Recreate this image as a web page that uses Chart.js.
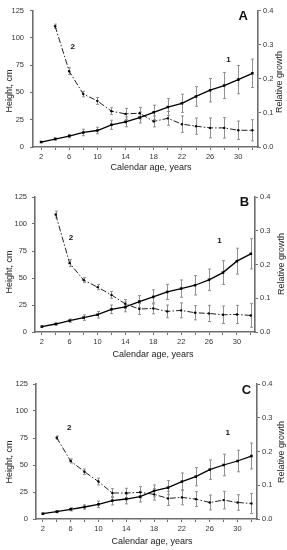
<!DOCTYPE html>
<html><head><meta charset="utf-8">
<script src="https://cdn.jsdelivr.net/npm/chart.js@4/dist/chart.umd.min.js"></script>
<style>
html,body{margin:0;padding:0;background:#fff;}
#wrap{position:relative;width:287px;height:550px;}
.p{position:absolute;left:0;width:287px;}
</style></head><body>
<div id="wrap">
<div class="p" style="top:0;height:180px"><canvas id="cA"></canvas></div>
<div class="p" style="top:180px;height:185px"><canvas id="cB"></canvas></div>
<div class="p" style="top:365px;height:185px"><canvas id="cC"></canvas></div>
</div>
<script>
// ---- data ----
const ages = [2,4,6,8,10,12,14,16,18,20,22,24,26,28,30,32];
const growthAges = [4,6,8,10,12,14,16,18,20,22,24,26,28,30,32];
const xTickValues = [2,4,6,8,10,12,14,16,18,20,22,24,26,28,30,32];
const heightTicks = [0,25,50,75,100,125];
const growthTicks = [0,0.1,0.2,0.3,0.4];

const heightA = [4.5,7.3,10,13.3,15.1,20.3,23,27,31.8,36.6,40,46.3,52,56.3,61.7,67.5];
const heightErrA = [0.5,1,1.5,3,3,4.2,4.5,5,6.5,7.7,8.3,9,10.7,12,13,13];
const growthA = [0.354,0.222,0.155,0.135,0.105,0.097,0.099,0.075,0.084,0.067,0.061,0.056,0.056,0.049,0.049];
const growthErrA = [0.006,0.01,0.008,0.01,0.01,0.016,0.017,0.016,0.02,0.024,0.024,0.029,0.03,0.027,0.031];

const heightB = [5,7.4,10.5,13.3,16,21,23.2,28.2,32.5,37.1,40.2,43.3,48.3,55,65.6,72.4];
const heightErrB = [0.5,1,1.5,2.5,3,4,4.5,5.5,6.5,7,8,9,10,11,12,14];
const growthB = [0.348,0.204,0.154,0.133,0.110,0.083,0.068,0.070,0.061,0.064,0.057,0.055,0.051,0.052,0.049];
const growthErrB = [0.01,0.01,0.007,0.008,0.01,0.013,0.016,0.016,0.019,0.022,0.021,0.024,0.026,0.027,0.035];

const heightC = [4.9,6.8,9,11.1,13.6,17,18.5,20.7,26,29,34.6,39.2,45.7,50,53.7,58.3];
const heightErrC = [0.5,1,1.5,2,3,4,4.5,5,5.5,6.5,8,8.5,9,10,10,12];
const growthC = [0.241,0.172,0.140,0.111,0.077,0.077,0.079,0.073,0.061,0.064,0.059,0.049,0.056,0.049,0.046];
const growthErrC = [0.005,0.006,0.008,0.01,0.013,0.014,0.017,0.017,0.021,0.022,0.022,0.022,0.026,0.023,0.03];

const panelLetters = ['A','B','C'];
const xTitle = 'Calendar age, years';
const yTitle = 'Height, cm';
const y2Title = 'Relative growth';

// ---- drawing ----
const FONT = '"Liberation Sans", Arial, sans-serif';
const AXC = '#6e6e6e';

const errPlugin = {
  id:'errbars',
  beforeDatasetsDraw(chart){
    const ctx = chart.ctx;
    ctx.save();
    ctx.strokeStyle = '#909090';
    ctx.lineWidth = 1;
    chart.data.datasets.forEach(ds=>{
      if(!ds.err) return;
      const ys = chart.scales[ds.yAxisID], xs = chart.scales.x;
      ds.data.forEach((p,i)=>{
        const e = ds.err[i];
        const px = Math.round(xs.getPixelForValue(p.x))+0.5;
        const y1 = ys.getPixelForValue(p.y+e), y2 = ys.getPixelForValue(p.y-e);
        ctx.beginPath();
        ctx.moveTo(px,y1); ctx.lineTo(px,y2);
        ctx.moveTo(px-1.5,y1); ctx.lineTo(px+1.5,y1);
        ctx.moveTo(px-1.5,y2); ctx.lineTo(px+1.5,y2);
        ctx.stroke();
      });
    });
    ctx.restore();
  }
};

const textPlugin = {
  id:'texts',
  afterDraw(chart){
    const o = chart.options.plugins.texts;
    const ctx = chart.ctx, xs = chart.scales.x, ys = chart.scales.y;
    ctx.save();
    ctx.fillStyle = '#111';
    ctx.textAlign='center'; ctx.textBaseline='middle';
    ctx.font = 'bold 13px '+FONT;
    ctx.fillText(o.letter, xs.getPixelForValue(o.letterPos[0]), ys.getPixelForValue(o.letterPos[1]));
    ctx.font = 'bold 8px '+FONT;
    ctx.fillText('1', xs.getPixelForValue(o.l1[0]), ys.getPixelForValue(o.l1[1]));
    ctx.fillText('2', xs.getPixelForValue(o.l2[0]), ys.getPixelForValue(o.l2[1]));
    ctx.fillStyle = '#222';
    ctx.font = '9px '+FONT;
    ctx.fillText(xTitle, o.xt[0], o.xt[1]);
    ctx.save(); ctx.translate(o.yt[0], o.yt[1]); ctx.rotate(-Math.PI/2); ctx.fillText(yTitle,0,0); ctx.restore();
    ctx.save(); ctx.translate(o.y2t[0], o.y2t[1]); ctx.rotate(-Math.PI/2); ctx.fillText(y2Title,0,0); ctx.restore();
    ctx.restore();
  }
};

function makeChart(id, h, hErr, g, gErr, cfg){
  const tickFont = {family:FONT, size:7.5};
  new Chart(document.getElementById(id), {
    type:'line',
    data:{datasets:[
      {label:'1', data: ages.map((a,i)=>({x:a,y:h[i]})), err:hErr, yAxisID:'y',
       borderColor:'#000', borderWidth:1.3, pointStyle:'rect', pointRadius:1.8,
       pointBackgroundColor:'#000', pointBorderColor:'#000', pointBorderWidth:0, tension:0},
      {label:'2', data: growthAges.map((a,i)=>({x:a,y:g[i]})), err:gErr, yAxisID:'y2',
       borderColor:'#222', borderWidth:1, borderDash:[6,2,1.5,2], pointStyle:'circle', pointRadius:1.2,
       pointBackgroundColor:'#000', pointBorderWidth:0, tension:0}
    ]},
    options:{
      responsive:true, maintainAspectRatio:false, animation:false,
      layout:{padding:{top:cfg.top, left:0, right:0, bottom:0}},
      plugins:{legend:{display:false}, tooltip:{enabled:false},
        texts:cfg.texts},
      scales:{
        x:{type:'linear', min:cfg.xmin, max:cfg.xmax,
          afterBuildTicks:s=>{s.ticks = xTickValues.map(v=>({value:v}));},
          afterFit:s=>{s.height = cfg.xh;},
          ticks:{font:tickFont, color:'#333', padding:2, maxRotation:0, autoSkip:false,
            callback:v=>((v-2)%4===0? String(v):'')},
          grid:{drawOnChartArea:false, color:AXC, tickLength:3},
          border:{color:AXC, width:1.6}},
        y:{position:'left', min:0, max:125,
          afterBuildTicks:s=>{s.ticks = heightTicks.map(v=>({value:v}));},
          afterFit:s=>{s.width = cfg.lw;},
          ticks:{font:tickFont, color:'#333', padding:cfg.lpad},
          grid:{drawOnChartArea:false, color:AXC, tickLength:3},
          border:{color:AXC, width:1.6}},
        y2:{position:'right', min:0, max:0.4,
          afterBuildTicks:s=>{s.ticks = growthTicks.map(v=>({value:v}));},
          afterFit:s=>{s.width = cfg.rw;},
          ticks:{font:tickFont, color:'#333', padding:2, callback:v=>v.toFixed(1)},
          grid:{drawOnChartArea:false, color:AXC, tickLength:3},
          border:{color:AXC, width:1.6}}
      }
    },
    plugins:[errPlugin, textPlugin]
  });
}

makeChart('cA', heightA, heightErrA, growthA, growthErrA, {
  top:9, xh:33, lw:33, rw:29, xmin:0.86, xmax:32.8, lpad:6,
  texts:{letter:panelLetters[0], letterPos:[30.7,120], l1:[28.6,80], l2:[6.5,91.5],
    xt:[151,168], yt:[10,91], y2t:[280,82]}
});
makeChart('cB', heightB, heightErrB, growthB, growthErrB, {
  top:17, xh:33, lw:35, rw:32, xmin:1.03, xmax:32.6, lpad:5,
  texts:{letter:panelLetters[1], letterPos:[31.1,119.7], l1:[27.5,84.4], l2:[6.2,87],
    xt:[153,175], yt:[10,92], y2t:[282,84]}
});
makeChart('cC', heightC, heightErrC, growthC, growthErrC, {
  top:19, xh:31, lw:36, rw:30, xmin:1.03, xmax:32.8, lpad:5,
  texts:{letter:panelLetters[2], letterPos:[31.3,119.4], l1:[28.6,79.6], l2:[5.8,84],
    xt:[152,177], yt:[10,97], y2t:[282,87]}
});
</script>
</body></html>
